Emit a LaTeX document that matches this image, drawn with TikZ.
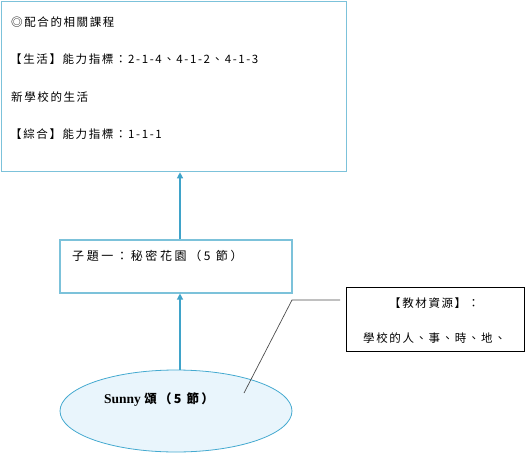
\documentclass[tikz,border=0pt]{standalone}
\usepackage{fontspec}
\usetikzlibrary{shapes.geometric,arrows.meta}
\newfontfamily\cjk[LetterSpace=14]{Noto Sans CJK TC}
\newfontfamily\cjkw[LetterSpace=22]{Noto Sans CJK TC}
\newfontfamily\cjkb[LetterSpace=18]{Noto Sans CJK TC Bold}
\newfontfamily\lserif{Liberation Serif}
\definecolor{boxblue}{HTML}{7CC2DA}
\definecolor{arrblue}{HTML}{3FA3C9}
\definecolor{ellblue}{HTML}{45AAD0}
\definecolor{ellfill}{HTML}{E9F5FC}
\tikzset{
  txt/.style={anchor=west, inner sep=0pt, font=\fontsize{11.5}{13}\cjk},
  bluebox/.style={draw=boxblue, rectangle, inner sep=0pt},
  arr/.style={draw=arrblue, line width=1.2pt, -{Triangle[width=6pt,length=6pt]}},
}
\begin{document}
\begin{tikzpicture}[x=1pt,y=-1pt]
\useasboundingbox (0,0) rectangle (529,454);
% top box
\node[bluebox, line width=1.6pt, minimum width=345pt, minimum height=170pt] (top) at (174,86.5) {};
\node[txt] (t1) at (11,22) {◎配合的相關課程};
\node[txt] (t2) at (10,59) {【生活】能力指標：2-1-4、4-1-2、4-1-3};
\node[txt] (t3) at (11,97) {新學校的生活};
\node[txt] (t4) at (10,134) {【綜合】能力指標：1-1-1};
% sub-topic box
\node[bluebox, line width=1.1pt, minimum width=232pt, minimum height=53pt] (sub) at (176,266.5) {};
\node[anchor=west, inner sep=0pt, font=\fontsize{12}{14}\cjkw] (s1) at (72,256) {子題一：秘密花園（5 節）};
% ellipse
\node[ellipse, draw=ellblue, fill=ellfill, line width=0.8pt, minimum width=232pt, minimum height=82pt] (ell) at (176,411) {};
\node[anchor=west, inner sep=0pt] (e1) at (104,400) {\fontsize{13.5}{15}\lserif\bfseries Sunny\ \fontsize{12.5}{15}\cjkb 頌（5 節）};
% resource callout
\node[draw=black, line width=0.8pt, rectangle, minimum width=178pt, minimum height=64pt] (res) at (435.5,319.5) {};
\node[anchor=west, inner sep=0pt, font=\fontsize{11.5}{13}\cjk] (r1) at (389,303) {【教材資源】：};
\node[anchor=west, inner sep=0pt, font=\fontsize{11.5}{13}\cjk] (r2) at (363,338) {學校的人、事、時、地、};
% connectors
\draw[arr] ([xshift=4pt]ell.north) -- ([xshift=4pt]sub.south);
\draw[arr] ([xshift=4pt]sub.north) -- ([xshift=4pt]sub.north |- top.south);
\coordinate (c1) at (244,393);
\coordinate (c2) at (292,300);
\coordinate (c3) at ([xshift=-6pt]res.west |- 0,300);
\draw[black!70, line width=0.7pt] (c1) -- (c2) -- (c3);
\end{tikzpicture}
\end{document}
